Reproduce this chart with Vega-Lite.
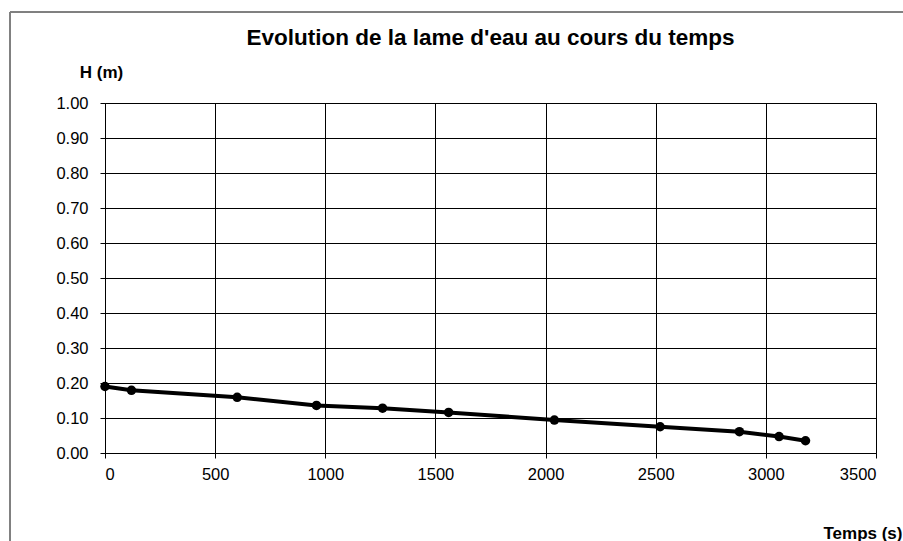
{
  "$schema": "https://vega.github.io/schema/vega-lite/v6.json",
  "width": 771,
  "height": 350,
  "autosize": {"type": "none"},
  "padding": {"left": 105, "top": 103, "right": 27, "bottom": 88},
  "background": "white",
  "title": {
    "text": "Evolution de la lame d'eau au cours du temps",
    "font": "Liberation Sans",
    "fontSize": 22.5,
    "fontWeight": "bold",
    "color": "black",
    "anchor": "middle",
    "frame": "group",
    "offset": -38
  },
  "config": {
    "view": {"stroke": "#808080", "strokeWidth": 1},
    "axis": {
      "labelFont": "Liberation Sans",
      "labelFontSize": 16.5,
      "labelColor": "black",
      "titleFont": "Liberation Sans",
      "titleFontSize": 17,
      "titleFontWeight": "bold",
      "titleColor": "black",
      "gridColor": "black",
      "gridOpacity": 1,
      "gridWidth": 1,
      "domainColor": "black",
      "domainWidth": 1,
      "tickColor": "black",
      "tickSize": 5,
      "tickWidth": 1
    }
  },
  "data": {
    "values": [
      {"t": 0, "H": 0.190},
      {"t": 120, "H": 0.179},
      {"t": 600, "H": 0.159},
      {"t": 960, "H": 0.136},
      {"t": 1260, "H": 0.128},
      {"t": 1560, "H": 0.116},
      {"t": 2040, "H": 0.094},
      {"t": 2520, "H": 0.075},
      {"t": 2880, "H": 0.061},
      {"t": 3060, "H": 0.047},
      {"t": 3180, "H": 0.035}
    ]
  },
  "encoding": {
    "x": {
      "field": "t",
      "type": "quantitative",
      "scale": {"domain": [0, 3500], "nice": false, "zero": false},
      "axis": {
        "values": [0, 500, 1000, 1500, 2000, 2500, 3000, 3500],
        "format": "d",
        "labelPadding": 8,
        "title": "Temps (s)",
        "titleAnchor": "start",
        "titleAlign": "right",
        "titleBaseline": "alphabetic",
        "titleX": 797,
        "titleY": 85
      }
    },
    "y": {
      "field": "H",
      "type": "quantitative",
      "scale": {"domain": [0, 1], "nice": false},
      "axis": {
        "values": [0, 0.1, 0.2, 0.3, 0.4, 0.5, 0.6, 0.7, 0.8, 0.9, 1.0],
        "format": ".2f",
        "labelPadding": 12,
        "title": "H (m)",
        "titleAngle": 0,
        "titleAlign": "center",
        "titleBaseline": "alphabetic",
        "titleX": -4,
        "titleY": -26
      }
    }
  },
  "layer": [
    {
      "mark": {"type": "rect", "fill": null, "fillOpacity": 0, "stroke": "#808080", "strokeWidth": 1, "clip": false},
      "encoding": {
        "x": {"datum": -431},
        "x2": {"datum": 4300},
        "y": {"datum": 1.26},
        "y2": {"datum": -0.6}
      }
    },
    {
      "mark": {"type": "line", "color": "black", "strokeWidth": 4}
    },
    {
      "mark": {"type": "point", "filled": true, "color": "black", "opacity": 1, "size": 90}
    }
  ]
}
